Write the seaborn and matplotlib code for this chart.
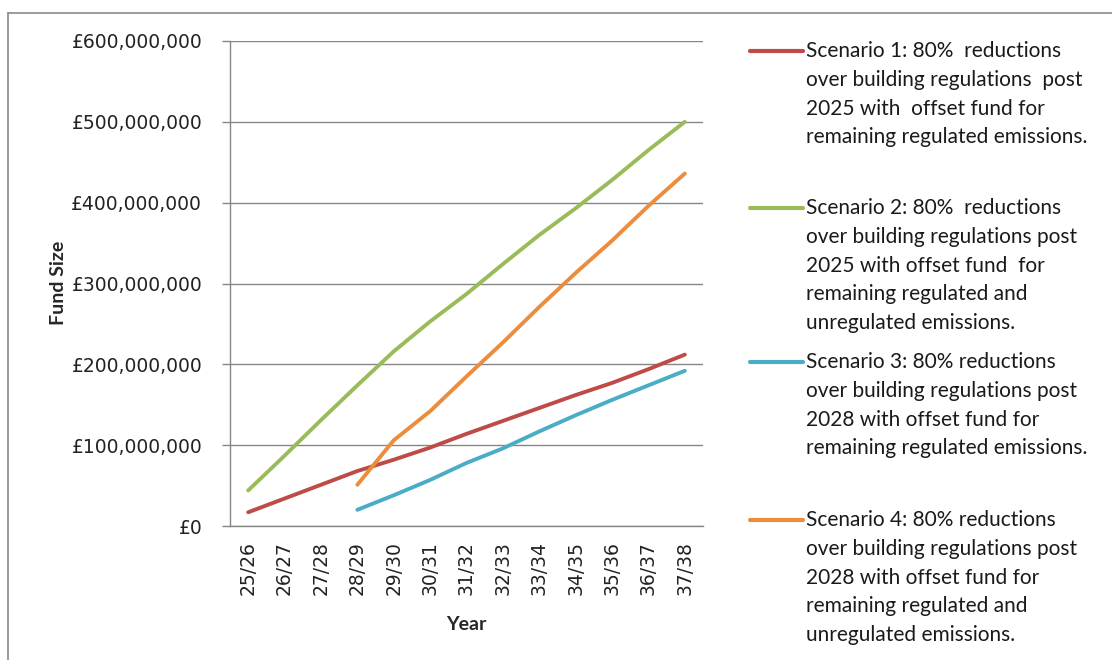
import numpy as np
import pandas as pd
import matplotlib
matplotlib.use("Agg")
import matplotlib.pyplot as plt
from matplotlib.lines import Line2D
import seaborn as sns

years = ["25/26", "26/27", "27/28", "28/29", "29/30", "30/31", "31/32",
         "32/33", "33/34", "34/35", "35/36", "36/37", "37/38"]
nan = np.nan
s1 = [17, 34, 51, 68, 82, 97, 114, 130, 146, 162, 177, 194, 212]
s2 = [44, 87, 131, 174, 216, 253, 287, 324, 360, 393, 428, 465, 500]
s3 = [nan, nan, nan, 20, 38, 57, 78, 96, 117, 137, 156, 174, 192]
s4 = [nan, nan, nan, 51, 106, 142, 185, 227, 271, 313, 353, 396, 436]
y_ticks = [0, 100, 200, 300, 400, 500, 600]
y_tick_labels = ["£0", "£100,000,000", "£200,000,000", "£300,000,000",
                 "£400,000,000", "£500,000,000", "£600,000,000"]
names = ["Scenario 1", "Scenario 2", "Scenario 3", "Scenario 4"]
legend_lines = [
    ["Scenario 1: 80%  reductions", "over building regulations  post",
     "2025 with  offset fund for", "remaining regulated emissions."],
    ["Scenario 2: 80%  reductions", "over building regulations post",
     "2025 with offset fund  for", "remaining regulated and",
     "unregulated emissions."],
    ["Scenario 3: 80% reductions", "over building regulations post",
     "2028 with offset fund for", "remaining regulated emissions."],
    ["Scenario 4: 80% reductions", "over building regulations post",
     "2028 with offset fund for", "remaining regulated and",
     "unregulated emissions."],
]
colors = ["#BE4B48", "#9BBB59", "#4BACC6", "#EC8D3E"]

rows = []
for name, vals in zip(names, [s1, s2, s3, s4]):
    for i, v in enumerate(vals):
        rows.append({"x": i, "value": v * 1e6, "scenario": name})
df = pd.DataFrame(rows)

sns.set_theme(style="white")
plt.rcParams["font.family"] = ["DejaVu Sans"]

W, H = 1112, 660
fig = plt.figure(figsize=(W / 100, H / 100), dpi=100)
ax = fig.add_axes([230 / W, 1 - 526 / H, (703 - 230) / W, (526 - 41) / H])

sns.lineplot(data=df, x="x", y="value", hue="scenario", palette=colors,
             linewidth=2.8, ax=ax, legend=False)

ax.set_xlim(-0.5, len(years) - 0.5)
ax.set_ylim(0, 600e6)
ax.set_yticks([v * 1e6 for v in y_ticks])
ax.set_yticklabels(y_tick_labels, fontsize=13.5, color="#222222")
ax.set_xticks(range(len(years)))
ax.set_xticklabels(years, rotation=90, fontsize=13.5, color="#222222")
ax.set_xticks(np.arange(-0.5, len(years), 1.0), minor=True)
ax.tick_params(axis="x", which="major", length=0, pad=11)
ax.tick_params(axis="x", which="minor", length=5, width=1, color="#868686", direction="out")
ax.tick_params(axis="y", which="major", length=6, width=1, color="#868686", direction="out", pad=14, left=True)
ax.yaxis.grid(True, color="#868686", linewidth=1)
ax.set_axisbelow(True)
for s in ["top", "right"]:
    ax.spines[s].set_visible(False)
for s in ["left", "bottom"]:
    ax.spines[s].set_color("#868686")
    ax.spines[s].set_linewidth(1)
ax.set_xlabel("Year", fontsize=14, fontweight="bold", family="Lato", labelpad=15)
ax.set_ylabel("")
fig.text(58 / W, 1 - 283 / H, "Fund Size", rotation=90, fontsize=14,
         fontweight="bold", family="Lato", ha="center", va="center")

# outer frame (left and top edges)
fig.add_artist(Line2D([8 / W, 8 / W], [0, 1 - 13 / H], color="#8a8a8a", linewidth=1.2))
fig.add_artist(Line2D([8 / W, 1], [1 - 13 / H, 1 - 13 / H], color="#8a8a8a", linewidth=1.2))

# legend
block_tops = [51, 208, 362, 520]
spacing = 28.8
for color, lines, top in zip(colors, legend_lines, block_tops):
    fig.add_artist(Line2D([750 / W, 803 / W], [1 - top / H, 1 - top / H],
                          color=color, linewidth=3, solid_capstyle="round"))
    for k, line in enumerate(lines):
        fig.text(806 / W, 1 - (top + k * spacing) / H, line, fontsize=15,
                 family="Lato", color="#1a1a1a", ha="left", va="center")

fig.savefig("out.png", dpi=100)
